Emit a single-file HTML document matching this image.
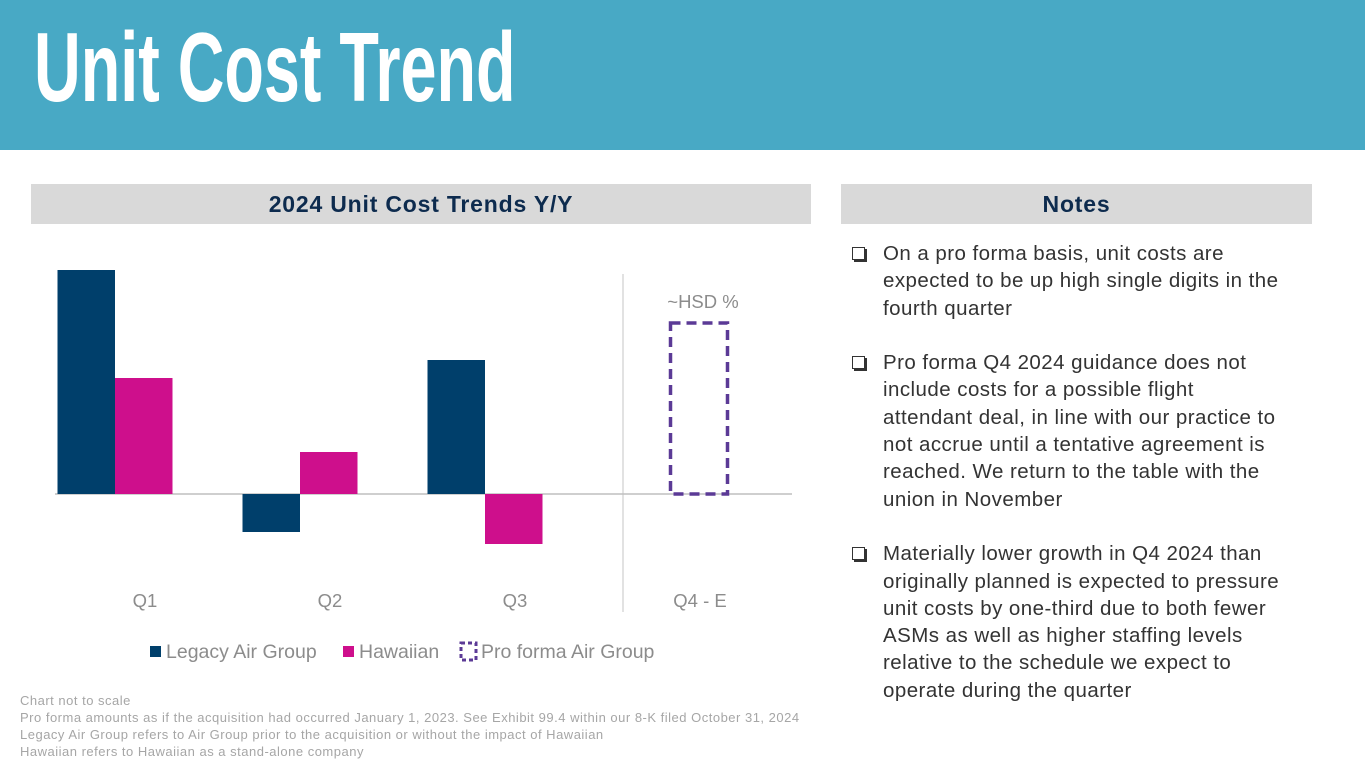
<!DOCTYPE html>
<html><head><meta charset="utf-8"><style>
body{margin:0;width:1365px;height:768px;position:relative;background:#fff;font-family:"Liberation Sans",sans-serif;overflow:hidden}
.hdr{position:absolute;left:0;top:0;width:1365px;height:150px;background:#48A9C5}
.title{position:absolute;left:34px;top:12px;color:#fff;font-family:"Liberation Sans Narrow","Liberation Sans",sans-serif;font-weight:bold;font-size:98px;line-height:110px;transform:scaleX(0.66);transform-origin:left top;white-space:nowrap}
.bar{position:absolute;top:184px;height:40px;background:#D9D9D9;color:#0D2B4E;font-weight:bold;font-size:23px;letter-spacing:0.8px;line-height:40px;text-align:center}
.notes{position:absolute;left:852px;top:240px;width:480px;color:#333;font-size:20.5px;letter-spacing:0.45px;line-height:27.3px;white-space:nowrap}
.note{position:relative;padding-left:31px;margin-bottom:27.3px}
.cb{position:absolute;left:0;top:7px;width:11px;height:11px;border:1.5px solid #333;box-shadow:2px 2px 0 #333}
.foot{position:absolute;left:20px;top:692px;color:#A6A6A6;font-size:13px;letter-spacing:0.5px;line-height:17px;white-space:nowrap}
</style></head><body>
<div class="hdr"></div>
<div class="title">Unit Cost Trend</div>
<div class="bar" style="left:31px;width:780px">2024 Unit Cost Trends Y/Y</div>
<div class="bar" style="left:841px;width:471px">Notes</div>
<svg id="chart" width="1365" height="768" style="position:absolute;left:0;top:0"></svg>
<div class="notes">
<div class="note"><span class="cb"></span>On a pro forma basis, unit costs are<br>expected to be up high single digits in the<br>fourth quarter</div>
<div class="note"><span class="cb"></span>Pro forma Q4 2024 guidance does not<br>include costs for a possible flight<br>attendant deal, in line with our practice to<br>not accrue until a tentative agreement is<br>reached. We return to the table with the<br>union in November</div>
<div class="note"><span class="cb"></span>Materially lower growth in Q4 2024 than<br>originally planned is expected to pressure<br>unit costs by one-third due to both fewer<br>ASMs as well as higher staffing levels<br>relative to the schedule we expect to<br>operate during the quarter</div>
</div>
<div class="foot">Chart not to scale<br>Pro forma amounts as if the acquisition had occurred January 1, 2023. See Exhibit 99.4 within our 8-K filed October 31, 2024<br>Legacy Air Group refers to Air Group prior to the acquisition or without the impact of Hawaiian<br>Hawaiian refers to Hawaiian as a stand-alone company</div>
<script>
const categories=["Q1","Q2","Q3","Q4 - E"];
const legacy=[22.4,-3.8,13.4,null];
const hawaiian=[11.6,4.2,-5.0,null];
const proforma=[null,null,null,17.1];
const NS="http://www.w3.org/2000/svg";
const svg=document.getElementById('chart');
const y0=494,pxPer=10,x0=55,catW=185,barW=57.5;
const y=v=>y0-v*pxPer;
const barCenter=i=>x0+catW*i+60;
const labelX=i=>x0+catW*i+90;
function mk(t,a){const e=document.createElementNS(NS,t);for(const k in a)e.setAttribute(k,a[k]);svg.appendChild(e);return e;}
let sep=mk('line',{x1:623,y1:274,x2:623,y2:612,stroke:'#D9D9D9','stroke-width':1.5});


let ax=mk('line',{x1:x0,y1:y0,x2:792,y2:y0,stroke:'#BFBFBF','stroke-width':1.5});


categories.forEach((c,i)=>{
  const m=barCenter(i);
  const key=c.toLowerCase().replace(/[^a-z0-9]+/g,'');
  if(legacy[i]!=null){const v=legacy[i];
    let r=mk('rect',{x:m-barW,y:Math.min(y(v),y0),width:barW,height:Math.abs(y(v)-y0),fill:'#003F6B'});
    
    }
  if(hawaiian[i]!=null){const v=hawaiian[i];
    let r=mk('rect',{x:m,y:Math.min(y(v),y0),width:barW,height:Math.abs(y(v)-y0),fill:'#CE0F8C'});
    
    }
  if(proforma[i]!=null){const v=proforma[i];const pc=labelX(i)-1;
    let r=mk('rect',{x:pc-28.5,y:y(v),width:57,height:y0-y(v),fill:'none',stroke:'#5B3A96','stroke-width':3.5,'stroke-dasharray':'10,6'});
    
    
    let t=mk('text',{x:pc+4,y:y(v)-15,'text-anchor':'middle','font-size':18.5,fill:'#8C8C8C'});t.textContent='~HSD %';
    
    }
  let l=mk('text',{x:labelX(i),y:607,'text-anchor':'middle','font-size':18.5,fill:'#8C8C8C'});l.textContent=c;
  
  
});
const leg=[['Legacy Air Group','#003F6B',150],['Hawaiian','#CE0F8C',343]];
leg.forEach(([n,col,x])=>{
  let r=mk('rect',{x:x,y:646,width:11,height:11,fill:col});
  
  
  let t=mk('text',{x:x+16,y:658,'font-size':19.5,fill:'#8C8C8C'});t.textContent=n;
  
  
});
let pr=mk('rect',{x:461,y:643,width:15,height:17,fill:'none',stroke:'#5B3A96','stroke-width':3,'stroke-dasharray':'4,3'});


let pt=mk('text',{x:481,y:658,'font-size':19.5,fill:'#8C8C8C'});pt.textContent='Pro forma Air Group';


</script>
</body></html>
